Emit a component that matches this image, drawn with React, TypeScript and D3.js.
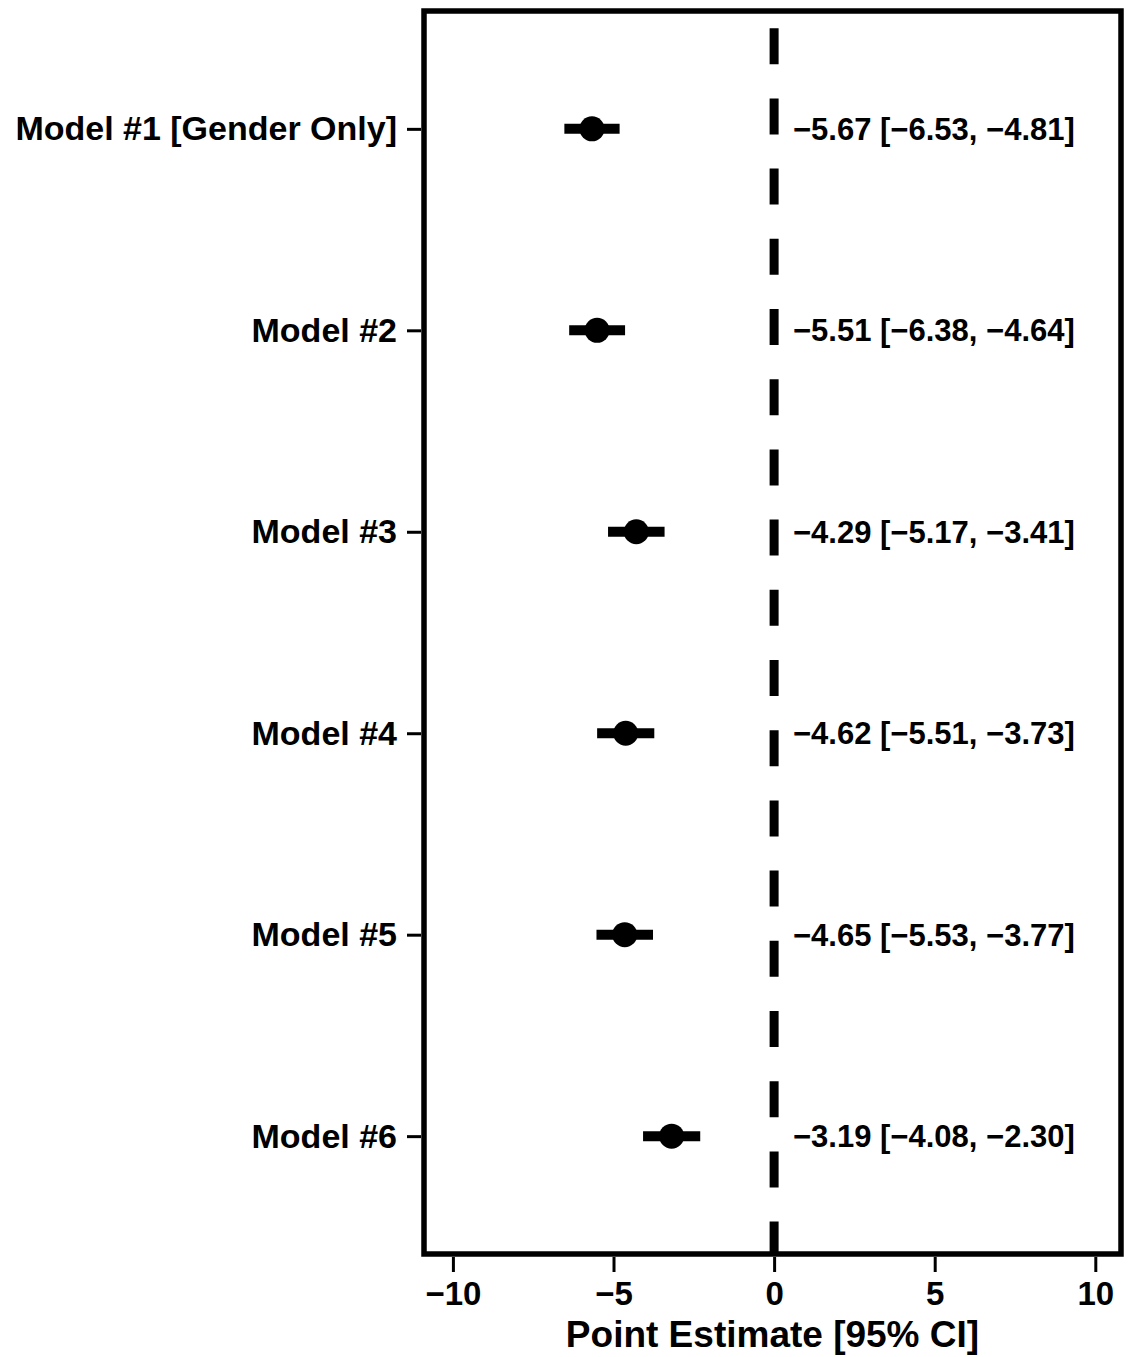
import React, { useEffect, useRef } from "react";
import * as d3 from "d3";

const models = [
  "Model #1 [Gender Only]",
  "Model #2",
  "Model #3",
  "Model #4",
  "Model #5",
  "Model #6",
];
const estimates = [-5.67, -5.51, -4.29, -4.62, -4.65, -3.19];
const lowers = [-6.53, -6.38, -5.17, -5.51, -5.53, -4.08];
const uppers = [-4.81, -4.64, -3.41, -3.73, -3.77, -2.3];
const xTicks = [-10, -5, 0, 5, 10];

const W = 1128;
const H = 1357;
const left = 424;
const right = 1121;
const top = 11;
const bottom = 1254;
const font = "'Liberation Sans', Arial, Helvetica, sans-serif";

const fmt = (v: number) => (v < 0 ? "\u2212" : "") + Math.abs(v).toFixed(2);
const tickFmt = (v: number) => (v < 0 ? "\u2212" : "") + Math.abs(v);

const App = () => {
  const ref = useRef<SVGSVGElement>(null);

  useEffect(() => {
    const svg = d3.select(ref.current);
    svg.selectAll("*").remove();

    const x = d3.scaleLinear().domain([-10.9, 10.8]).range([left, right]);
    const y = d3.scalePoint().domain(models).range([top, bottom]).padding(0.585);

    // zero line
    svg
      .append("line")
      .attr("x1", x(0))
      .attr("x2", x(0))
      .attr("y1", top)
      .attr("y2", bottom)
      .attr("stroke", "black")
      .attr("stroke-width", 9)
      .attr("stroke-dasharray", "36,34.2")
      .attr("stroke-dashoffset", 53);

    const rows = models.map((m, i) => ({
      m,
      est: estimates[i],
      lo: lowers[i],
      hi: uppers[i],
    }));

    const g = svg.selectAll(".row").data(rows).join("g").attr("class", "row");
    g.append("line")
      .attr("x1", (d) => x(d.lo))
      .attr("x2", (d) => x(d.hi))
      .attr("y1", (d) => y(d.m)!)
      .attr("y2", (d) => y(d.m)!)
      .attr("stroke", "black")
      .attr("stroke-width", 10);
    g.append("circle")
      .attr("cx", (d) => x(d.est))
      .attr("cy", (d) => y(d.m)!)
      .attr("r", 12.5)
      .attr("fill", "black");
    g.append("text")
      .attr("x", 793)
      .attr("y", (d) => y(d.m)! + 11)
      .attr("font-family", font)
      .attr("font-weight", "bold")
      .attr("font-size", 31)
      .text((d) => `${fmt(d.est)} [${fmt(d.lo)}, ${fmt(d.hi)}]`);

    // axes
    const xAxis = d3
      .axisBottom(x)
      .tickValues(xTicks)
      .tickFormat((v) => tickFmt(+v))
      .tickSize(15)
      .tickPadding(10);
    const gx = svg
      .append("g")
      .attr("transform", `translate(0,${bottom + 3})`)
      .call(xAxis);
    gx.select(".domain").remove();
    gx.selectAll(".tick line").attr("stroke-width", 3);
    gx.selectAll(".tick text")
      .attr("font-family", font)
      .attr("font-weight", "bold")
      .attr("font-size", 33)
      .attr("fill", "black");

    const yAxis = d3.axisLeft(y).tickSize(14).tickPadding(10);
    const gy = svg
      .append("g")
      .attr("transform", `translate(${left - 3},0)`)
      .call(yAxis);
    gy.select(".domain").remove();
    gy.selectAll(".tick line").attr("stroke-width", 3);
    gy.selectAll(".tick text")
      .attr("font-family", font)
      .attr("font-weight", "bold")
      .attr("font-size", 34)
      .attr("fill", "black");

    // frame
    svg
      .append("rect")
      .attr("x", left)
      .attr("y", top)
      .attr("width", right - left)
      .attr("height", bottom - top)
      .attr("fill", "none")
      .attr("stroke", "black")
      .attr("stroke-width", 5.5);

    svg
      .append("text")
      .attr("x", (x(-10.9) + x(10.8)) / 2)
      .attr("y", 1347)
      .attr("text-anchor", "middle")
      .attr("font-family", font)
      .attr("font-weight", "bold")
      .attr("font-size", 37)
      .text("Point Estimate [95% CI]");
  }, []);

  return (
    <svg
      ref={ref}
      width={W}
      height={H}
      style={{ position: "absolute", left: 0, top: 0, background: "white" }}
    />
  );
};

export default App;
